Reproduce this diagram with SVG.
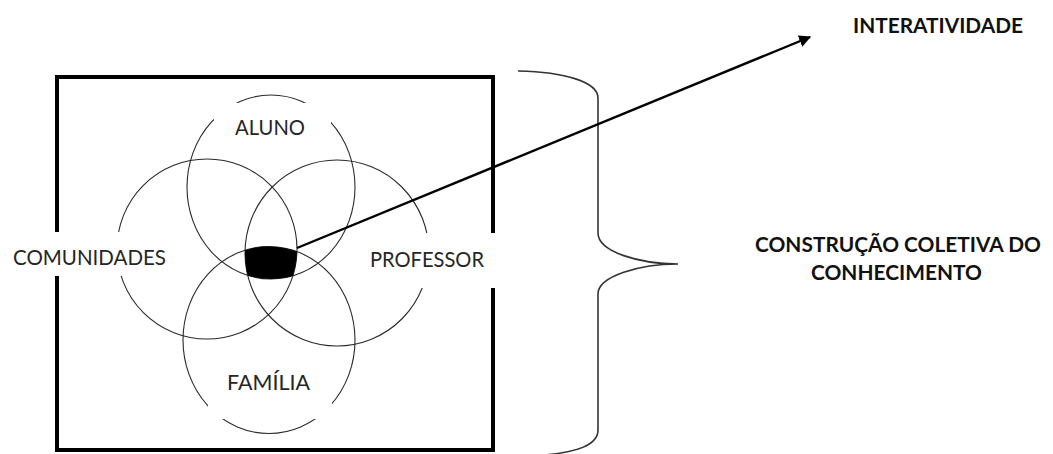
<svg xmlns="http://www.w3.org/2000/svg" width="1053" height="454" viewBox="0 0 1053 454">
  <style>
    .ring { fill: none; stroke: #2a2a2a; stroke-width: 1.1; }
    .mask { fill: #ffffff; stroke: none; }
    .lbl { font-family: Lato, "Open Sans", "Liberation Sans", sans-serif; font-size: 21px; fill: #262626; }
    .bold { font-family: Lato, "Open Sans", "Liberation Sans", sans-serif; font-size: 21px; font-weight: 700; fill: #111111; }
    .frame { fill: none; stroke: #000000; stroke-width: 4; }
    .brace { fill: none; stroke: #333333; stroke-width: 1.6; }
    .conn { stroke: #000000; stroke-width: 2.4; fill: none; }
  </style>
  <defs>
    <marker id="arrow" viewBox="0 0 10 10" refX="9" refY="5" markerWidth="5" markerHeight="5" orient="auto" markerUnits="strokeWidth">
      <path d="M0,0 L10,5 L0,10 z" fill="#000000"/>
    </marker>
    <clipPath id="clipL"><circle cx="207" cy="249" r="90"/></clipPath>
    <clipPath id="clipR"><ellipse cx="337" cy="253" rx="92" ry="93"/></clipPath>
    <clipPath id="clipB"><ellipse cx="269" cy="340" rx="86" ry="93.5"/></clipPath>
  </defs>

  <rect width="1053" height="454" fill="#ffffff"/>

  <g id="frame">
    <rect class="frame" x="57" y="77" width="436" height="373"/>
  </g>

  <g id="aluno">
    <ellipse class="ring" cx="271" cy="187" rx="84" ry="92"/>
    <rect class="mask" x="214" y="103" width="117" height="45"/>
    <text class="lbl" x="235" y="135" textLength="70" lengthAdjust="spacingAndGlyphs">ALUNO</text>
  </g>

  <g id="comunidades">
    <circle class="ring" cx="207" cy="249" r="90"/>
    <rect class="mask" x="5" y="232" width="160" height="44"/>
    <text class="lbl" x="13" y="265" textLength="153" lengthAdjust="spacingAndGlyphs">COMUNIDADES</text>
  </g>

  <g id="professor">
    <ellipse class="ring" cx="337" cy="253" rx="92" ry="93"/>
    <rect class="mask" x="358" y="233" width="142" height="55"/>
    <text class="lbl" x="370" y="267" textLength="114" lengthAdjust="spacingAndGlyphs">PROFESSOR</text>
  </g>

  <g id="familia">
    <ellipse class="ring" cx="269" cy="340" rx="86" ry="93.5"/>
    <rect class="mask" x="208" y="365" width="124" height="54"/>
    <text class="lbl" x="227" y="390" textLength="83" lengthAdjust="spacingAndGlyphs">FAMÍLIA</text>
  </g>

  <g id="centro">
    <g clip-path="url(#clipL)">
      <g clip-path="url(#clipR)">
        <g clip-path="url(#clipB)">
          <ellipse cx="271" cy="187" rx="84" ry="92" fill="#000000"/>
        </g>
      </g>
    </g>
  </g>

  <g id="chave">
    <path class="brace" d="M518,71 C565,72 598,82 598,98 L598,233 C598,252 640,264 678,264 C640,264 598,276 598,294 L598,430 C598,446 575,452 545,455"/>
  </g>

  <g id="connectors">
    <line class="conn" x1="297" y1="248" x2="810" y2="37" marker-end="url(#arrow)"/>
  </g>

  <g id="interatividade">
    <text class="bold" x="853" y="33" textLength="170" lengthAdjust="spacingAndGlyphs">INTERATIVIDADE</text>
  </g>

  <g id="construcao">
    <text class="bold" x="755" y="252" textLength="286" lengthAdjust="spacingAndGlyphs">CONSTRUÇÃO COLETIVA DO</text>
    <text class="bold" x="811" y="280" textLength="171" lengthAdjust="spacingAndGlyphs">CONHECIMENTO</text>
  </g>
</svg>
